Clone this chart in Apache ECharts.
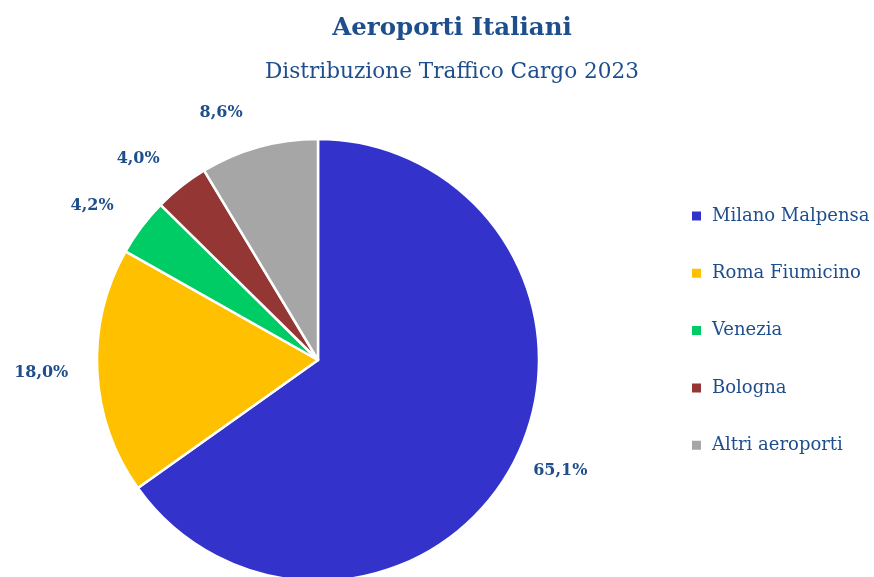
<!DOCTYPE html>
<html><head><meta charset="utf-8">
<script src="https://cdn.jsdelivr.net/npm/echarts@6/dist/echarts.min.js"></script>
<style>html,body{margin:0;padding:0;background:#fff}#c{width:874px;height:577px}</style>
</head><body><div id="c"></div>
<script>
const categories = ['Milano Malpensa','Roma Fiumicino','Venezia','Bologna','Altri aeroporti'];
const values = [65.1, 18.0, 4.2, 4.0, 8.6];
const colors = ['#3333cc','#ffc000','#00cc66','#943634','#a6a6a6'];
const labelLen = [20, 22, 35, 35, 35];
const labelLen2 = [1, 7, 0, 0, 7];
const textColor = '#1f4e8c';
const font = 'DejaVu Serif';
const chart = echarts.init(document.getElementById('c'));
const fmt = p => p.value.toFixed(1).replace('.', ',') + '%';
chart.setOption({
  animation:false,
  title:{text:'Aeroporti Italiani', subtext:'Distribuzione Traffico Cargo 2023', left:447, textAlign:'center', top:11,
    itemGap:20,
    textStyle:{fontFamily:font,fontWeight:'bold',fontSize:24.5,color:textColor},
    subtextStyle:{fontFamily:font,fontSize:21.6,color:textColor}},
  legend:{orient:'vertical', left:685, top:202, itemWidth:11, itemHeight:11, itemGap:39.3, icon:'rect',
    data:categories,
    textStyle:{fontFamily:font,fontSize:18,color:textColor,padding:[0,0,0,5]}},
  series:[{type:'pie', center:[318,360], radius:221, startAngle:90, clockwise:true,
    avoidLabelOverlap:false,
    itemStyle:{borderColor:'#fff',borderWidth:2.5},
    label:{show:true, position:'outside', distanceToLabelLine:0, fontFamily:font, fontWeight:'bold', fontSize:16, color:textColor, formatter:fmt},
    labelLine:{show:false},
    emphasis:{disabled:true},
    data: categories.map((n,i)=>({name:n,value:values[i],itemStyle:{color:colors[i]},
      labelLine:{show:false,length:labelLen[i],length2:labelLen2[i]}}))
  }]
});
</script></body></html>
